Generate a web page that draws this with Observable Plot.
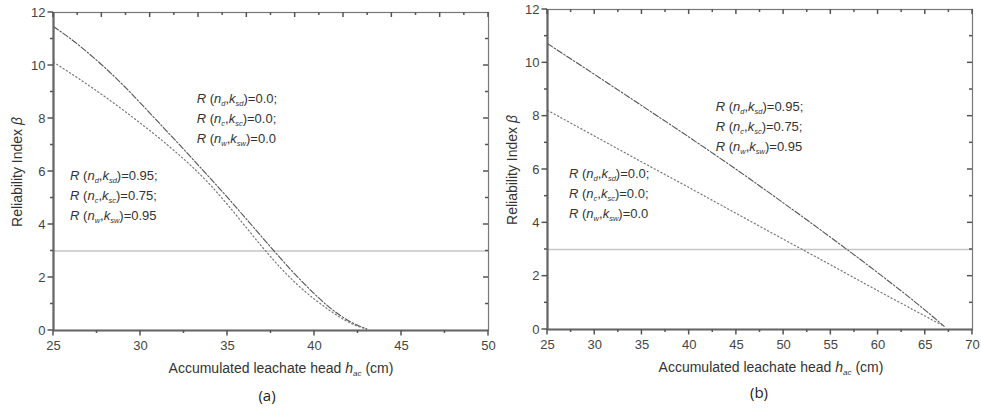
<!DOCTYPE html>
<html><head><meta charset="utf-8">
<script src="https://cdn.jsdelivr.net/npm/d3@7"></script>
<script src="https://cdn.jsdelivr.net/npm/@observablehq/plot@0.6"></script>
<style>
body{margin:0;background:#fff;}
#wrap{position:relative;width:981px;height:410px;overflow:hidden;font-family:"Liberation Sans",Arial,sans-serif;color:#333;background:#fff}
.pnl{position:absolute;top:0}
.lbl{position:absolute;font-size:14px;white-space:nowrap;color:#333;transform:translate(-50%,-50%)}
.ylbl{transform:translate(-50%,-50%) rotate(-90deg)}
.cap{position:absolute;font-family:"Open Sans",Lato,sans-serif;font-size:15px;color:#222;transform:translate(-50%,-50%)}
</style></head><body><div id="wrap"></div>
<script>
// ---------- data ----------
// Panel (a)
const hA = [25,26,27,28,29,30,31,32,33,34,35,36,37,38,39,40,41,42,43];
const betaA_R0   = [11.47,11.0,10.47,9.89,9.26,8.58,7.88,7.18,6.47,5.75,5.02,4.27,3.51,2.76,2.04,1.38,0.80,0.35,0.06];
const betaA_Rcor = [10.12,9.70,9.26,8.80,8.32,7.82,7.30,6.75,6.16,5.50,4.75,3.95,3.15,2.40,1.74,1.18,0.70,0.30,0.05];
// Panel (b)
const hB = [25,30,35,40,45,50,55,60,65,67];
const betaB_Rcor = [10.72,9.56,8.39,7.21,6.0,4.74,3.45,2.12,0.72,0.12];
const betaB_R0   = [8.22,7.25,6.28,5.32,4.35,3.38,2.42,1.45,0.5,0.12];
// target reliability
const betaTarget = 3;
// ticks
const yTicks = [0,2,4,6,8,10,12];
const yMinor = [1,3,5,7,9,11];
const xTicksA = [25,30,35,40,45,50];
const xMinorA = [27.5,32.5,37.5,42.5,47.5];
const xTicksB = [25,30,35,40,45,50,55,60,65,70];
const xMinorB = [27.5,32.5,37.5,42.5,47.5,52.5,57.5,62.5,67.5];
// annotation text
const valsCor = ["0.95;","0.75;","0.95"];
const valsR0  = ["0.0;","0.0;","0.0"];
const subs = [["d","sd"],["c","sc"],["w","sw"]];

// ---------- drawing ----------
const wrap = document.getElementById("wrap");

function panel(o){
  const [x0,x1] = o.xDomain;
  const plot = Plot.plot({
    width: o.width, height: o.height,
    marginLeft: o.ml, marginRight: o.mr, marginTop: o.mt, marginBottom: o.mb,
    x: {domain: o.xDomain},
    y: {domain: [0,12]},
    style: {fontFamily: '"Liberation Sans", Arial, sans-serif', fontSize: "13px", color: "#444", background: "transparent", overflow: "visible"},
    marks: [
      Plot.ruleY([betaTarget], {stroke: "#c6c6c6", strokeWidth: 1.6}),
      Plot.line(o.h, {x: o.h, y: o.dashY, curve: "monotone-x", stroke: "#555", strokeWidth: 1.1, strokeDasharray: "6,2,1.5,2"}),
      Plot.line(o.h, {x: o.h, y: o.dotY, curve: "monotone-x", stroke: "#777", strokeWidth: 1.2, strokeDasharray: "1.2,2.6"}),
      Plot.frame({stroke: "#777", strokeWidth: 1.2}),
      Plot.ruleX([x0], {stroke: "#666", strokeWidth: 2.2}),
      Plot.ruleY([0], {stroke: "#666", strokeWidth: 2.2}),
      Plot.axisX(o.xTicks, {anchor: "bottom", tickSize: 0, tickPadding: 10, label: null, fontSize: 13}),
      Plot.axisY(yTicks, {anchor: "left", tickSize: 0, tickPadding: 8, label: null, fontSize: 13})
    ]
  });
  const xs = plot.scale("x"), ys = plot.scale("y");
  const svg = d3.select(plot);
  const X = v => xs.apply(v), Y = v => ys.apply(v);
  const g = svg.append("g").attr("stroke", "#555").attr("stroke-width", 1.5).attr("fill", "none");
  const tick = (xa, ya, xb, yb) => g.append("line").attr("x1", xa).attr("y1", ya).attr("x2", xb).attr("y2", yb);
  const yb = Y(0), yt = Y(12), xl = X(x0), xr = X(x1);
  // bottom (outward) ticks
  o.xTicks.forEach(v => tick(X(v), yb, X(v), yb + 5.5));
  o.xMinor.forEach(v => tick(X(v), yb, X(v), yb + 3));
  // left (outward) ticks
  yTicks.forEach(v => tick(xl, Y(v), xl - 5.5, Y(v)));
  yMinor.forEach(v => tick(xl, Y(v), xl - 3, Y(v)));
  // top (inward) ticks
  o.topMajor.forEach(v => tick(X(v), yt, X(v), yt + 5));
  o.topMinor.forEach(v => tick(X(v), yt, X(v), yt + 3));
  // right (inward) ticks
  yTicks.slice(1, -1).forEach(v => tick(xr, Y(v), xr - 5, Y(v)));
  yMinor.forEach(v => tick(xr, Y(v), xr - 3, Y(v)));

  o.blocks.forEach(b => {
    b.vals.forEach((v, i) => {
      const t = svg.append("text")
        .attr("x", X(b.x))
        .attr("y", Y(b.y) + i * b.step)
        .attr("font-size", 13)
        .attr("text-anchor", "start")
        .attr("fill", "#333")
        .attr("font-family", '"Liberation Sans", Arial, sans-serif');
      t.append("tspan").attr("font-style","italic").text("R");
      t.append("tspan").text(" (");
      t.append("tspan").attr("font-style","italic").text("n");
      t.append("tspan").attr("font-style","italic").attr("font-size",7.5).attr("dy",3).text(subs[i][0]);
      t.append("tspan").attr("dy",-3).text(",");
      t.append("tspan").attr("font-style","italic").text("k");
      t.append("tspan").attr("font-style","italic").attr("font-size",7.5).attr("dy",3).text(subs[i][1]);
      t.append("tspan").attr("dy",-3).text(")=" + v);
    });
  });
  const div = document.createElement("div");
  div.className = "pnl";
  div.style.left = o.left + "px";
  div.appendChild(plot);
  wrap.appendChild(div);
}

// top ticks of panel (a) sit on a 25–70 grid compressed into 25–50 (as in the original figure)
const topB = [25,27.5,30,32.5,35,37.5,40,42.5,45,47.5,50,52.5,55,57.5,60,62.5,65,67.5,70];
const toA = v => 25 + (v - 25) * 25 / 45;

panel({
  left: 0, width: 490, height: 380, ml: 53, mr: 2, mt: 12, mb: 50,
  xDomain: [25,50], xTicks: xTicksA, xMinor: xMinorA,
  topMajor: topB.filter(v => v % 5 === 0).map(toA),
  topMinor: topB.filter(v => v % 5 !== 0).map(toA),
  h: hA, dashY: betaA_R0, dotY: betaA_Rcor,
  blocks: [
    {x: 33.26, y: 8.57, step: 20, vals: valsR0},
    {x: 25.98, y: 5.67, step: 20, vals: valsCor}
  ]
});
panel({
  left: 490, width: 490, height: 380, ml: 57, mr: 8, mt: 9, mb: 51,
  xDomain: [25,70], xTicks: xTicksB, xMinor: xMinorB,
  topMajor: xTicksB, topMinor: xMinorB,
  h: hB, dashY: betaB_Rcor, dotY: betaB_R0,
  blocks: [
    {x: 42.86, y: 8.17, step: 19.7, vals: valsCor},
    {x: 27.33, y: 5.66, step: 20, vals: valsR0}
  ]
});

// axis titles and captions
function addLbl(html, x, y, cls){
  const d = document.createElement("div");
  d.className = cls; d.innerHTML = html;
  d.style.left = x + "px"; d.style.top = y + "px";
  wrap.appendChild(d);
}
const xTitle = 'Accumulated leachate head <i>h</i><sub style="font-size:8px;font-style:italic">ac</sub> (cm)';
const yTitle = 'Reliability Index <i>β</i>';
addLbl(xTitle, 281, 369, "lbl");
addLbl(xTitle, 771, 368, "lbl");
addLbl(yTitle, 17, 172, "lbl ylbl");
addLbl(yTitle, 512, 170, "lbl ylbl");
addLbl("(a)", 267, 395, "cap");
addLbl("(b)", 759, 392, "cap");
</script></body></html>
